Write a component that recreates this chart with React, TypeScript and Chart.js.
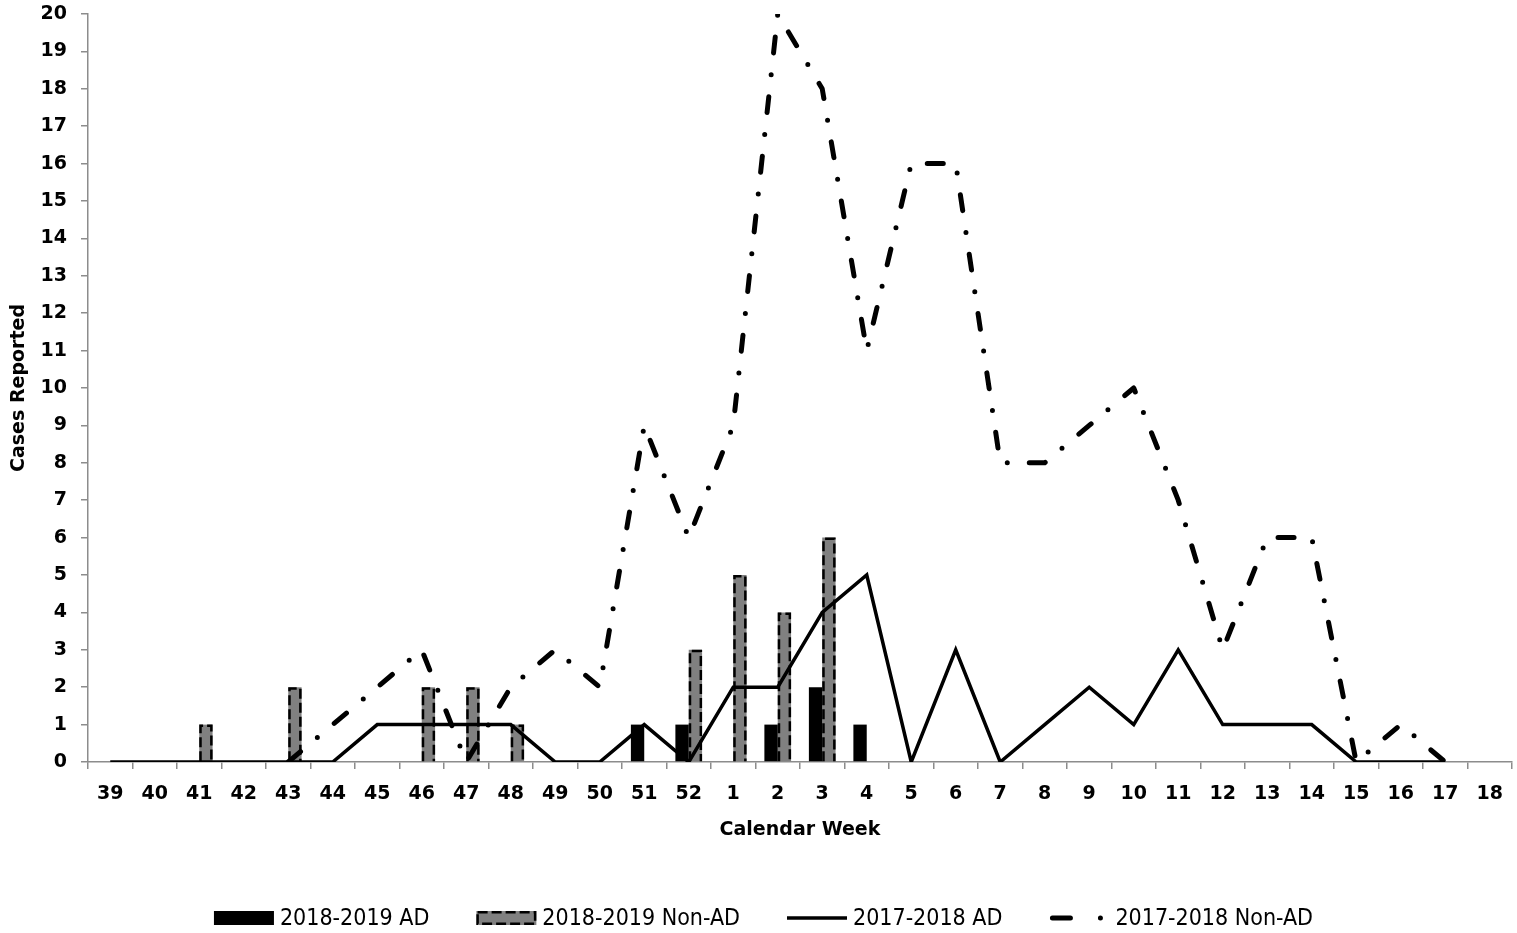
import React, { useEffect, useRef } from "react";
import { Chart, registerables } from "chart.js";

Chart.register(...registerables);

const weeks = [
  "39", "40", "41", "42", "43", "44", "45", "46", "47", "48", "49", "50", "51", "52",
  "1", "2", "3", "4", "5", "6", "7", "8", "9", "10", "11", "12", "13", "14", "15", "16", "17", "18",
];

const ad1819: (number | null)[] = [
  null, null, null, null, null, null, null, null, null, null, null, null, 1, 1,
  null, 1, 2, 1, null, null, null, null, null, null, null, null, null, null, null, null, null, null,
];

const nonAd1819: (number | null)[] = [
  null, null, 1, null, 2, null, null, 2, 2, 1, null, null, null, 3,
  5, 4, 6, null, null, null, null, null, null, null, null, null, null, null, null, null, null, null,
];

const ad1718: (number | null)[] = [
  0, 0, 0, 0, 0, 0, 1, 1, 1, 1, 0, 0, 1, 0,
  2, 2, 4, 5, 0, 3, 0, 1, 2, 1, 3, 1, 1, 1, 0, 0, 0, null,
];

const nonAd1718: (number | null)[] = [
  null, null, null, null, 0, 1, 2, 3, 0, 2, 3, 2, 9, 6,
  9, 20, 18, 11, 16, 16, 8, 8, 9, 10, 7, 3, 6, 6, 0, 1, 0, null,
];

const seriesLabels = ["2018-2019 AD", "2018-2019 Non-AD", "2017-2018 AD", "2017-2018 Non-AD"];

const xTitle = "Calendar Week";
const yTitle = "Cases Reported";

const AXIS_FONT = "'DejaVu Sans', sans-serif";
const LEGEND_FONT = "'DejaVu Sans Condensed', 'Liberation Sans Narrow', 'Liberation Sans', sans-serif";
const DASH_DOT = [16, 22, 0, 22];
const BAR_DASH = [10, 4];

const dashedBars = {
  id: "dashedBars",
  afterDatasetDraw(chart: any, args: any) {
    if (args.index !== 1) return;
    const ctx = chart.ctx;
    const data = chart.data.datasets[1].data;
    ctx.save();
    ctx.strokeStyle = "#000";
    ctx.lineWidth = 2.5;
    ctx.setLineDash(BAR_DASH);
    args.meta.data.forEach((el: any, i: number) => {
      const v = data[i];
      if (v == null || v === 0) return;
      const { x, y, base, width } = el.getProps(["x", "y", "base", "width"], true);
      const l = x - width / 2 + 1.25;
      const r = x + width / 2 - 1.25;
      const t = y + 1.25;
      ctx.beginPath();
      ctx.moveTo(l, base);
      ctx.lineTo(l, t);
      ctx.lineTo(r, t);
      ctx.lineTo(r, base);
      ctx.stroke();
    });
    ctx.restore();
  },
};

const customLegend = {
  id: "customLegend",
  afterDraw(chart: any) {
    const ctx = chart.ctx;
    const y = 918;
    const boxW = 60;
    const textGap = 6;
    const itemGap = 47;
    ctx.save();
    ctx.font = `23px ${LEGEND_FONT}`;
    ctx.textBaseline = "middle";
    ctx.fillStyle = "#000";
    const widths = seriesLabels.map((t) => ctx.measureText(t).width);
    const total = widths.reduce((a, b) => a + b, 0) + seriesLabels.length * (boxW + textGap) + (seriesLabels.length - 1) * itemGap;
    let x = chart.width / 2 - total / 2 + 5;
    seriesLabels.forEach((label, i) => {
      ctx.save();
      if (i === 0) {
        ctx.fillStyle = "#000";
        ctx.fillRect(x, y - 7, boxW, 14);
      } else if (i === 1) {
        ctx.fillStyle = "#808080";
        ctx.fillRect(x, y - 7, boxW, 14);
        ctx.strokeStyle = "#000";
        ctx.lineWidth = 2.5;
        ctx.setLineDash(BAR_DASH);
        ctx.strokeRect(x + 1.25, y - 5.75, boxW - 2.5, 11.5);
      } else if (i === 2) {
        ctx.strokeStyle = "#000";
        ctx.lineWidth = 3.5;
        ctx.beginPath();
        ctx.moveTo(x, y);
        ctx.lineTo(x + boxW, y);
        ctx.stroke();
      } else {
        ctx.strokeStyle = "#000";
        ctx.lineWidth = 5;
        ctx.lineCap = "round";
        ctx.setLineDash([18, 30, 0, 30]);
        ctx.beginPath();
        ctx.moveTo(x + 3, y);
        ctx.lineTo(x + boxW, y);
        ctx.stroke();
      }
      ctx.restore();
      ctx.fillStyle = "#000";
      ctx.font = `23px ${LEGEND_FONT}`;
      ctx.textBaseline = "middle";
      ctx.fillText(label, x + boxW + textGap, y + 1);
      x += boxW + textGap + widths[i] + itemGap;
    });
    ctx.restore();
  },
};

export default function App() {
  const canvasRef = useRef<HTMLCanvasElement | null>(null);

  useEffect(() => {
    const canvas = canvasRef.current;
    if (!canvas) return;
    const tickFont = { family: AXIS_FONT, size: 19, weight: "bold" as const };
    const chart = new Chart(canvas, {
      type: "bar",
      data: {
        labels: weeks,
        datasets: [
          {
            type: "bar",
            label: seriesLabels[0],
            data: ad1819,
            backgroundColor: "#000000",
            borderWidth: 0,
            order: 2,
          },
          {
            type: "bar",
            label: seriesLabels[1],
            data: nonAd1819,
            backgroundColor: "#808080",
            borderWidth: 0,
            order: 3,
          },
          {
            type: "line",
            label: seriesLabels[2],
            data: ad1718,
            borderColor: "#000000",
            backgroundColor: "#000000",
            borderWidth: 3.5,
            pointRadius: 0,
            tension: 0,
            fill: false,
            order: 1,
          },
          {
            type: "line",
            label: seriesLabels[3],
            data: nonAd1718,
            borderColor: "#000000",
            backgroundColor: "#000000",
            borderWidth: 5,
            borderDash: DASH_DOT,
            borderCapStyle: "round",
            borderJoinStyle: "round",
            pointRadius: 0,
            tension: 0,
            fill: false,
            order: 0,
          },
        ] as any,
      },
      options: {
        animation: false,
        responsive: false,
        maintainAspectRatio: false,
        layout: { padding: { top: 14, right: 4, bottom: 81, left: 0 } },
        plugins: {
          legend: { display: false },
          tooltip: { enabled: false },
          title: { display: false },
        },
        datasets: {
          bar: { categoryPercentage: 0.6, barPercentage: 1.0, grouped: true },
        },
        scales: {
          x: {
            offset: true,
            grid: { drawOnChartArea: false, color: "#8c8c8c", tickLength: 7, offset: true, lineWidth: 1.5 },
            border: { color: "#8c8c8c", width: 1.5 },
            ticks: { color: "#000", font: tickFont, padding: 14, maxRotation: 0, autoSkip: false },
            title: {
              display: true,
              text: xTitle,
              color: "#000",
              font: { family: AXIS_FONT, size: 19, weight: "bold" },
              padding: { top: 0, bottom: 11 },
            },
            afterFit: (s: any) => {
              s.height = 90;
            },
          },
          y: {
            min: 0,
            max: 20,
            grid: { drawOnChartArea: false, color: "#8c8c8c", tickLength: 7, lineWidth: 1.5 },
            border: { color: "#8c8c8c", width: 1.5 },
            ticks: { stepSize: 1, color: "#000", font: tickFont, padding: 14 },
            title: {
              display: true,
              text: yTitle,
              color: "#000",
              font: { family: AXIS_FONT, size: 19, weight: "bold" },
              padding: { top: 8, bottom: 0 },
            },
            afterFit: (s: any) => {
              s.width = 88;
              s.paddingTop = 0;
              s.paddingBottom = 0;
            },
          },
        },
      } as any,
      plugins: [dashedBars, customLegend],
    });
    return () => chart.destroy();
  }, []);

  return (
    <div style={{ position: "absolute", left: 0, top: 0, width: 1517, height: 933, background: "#fff" }}>
      <canvas ref={canvasRef} width={1517} height={933} style={{ width: 1517, height: 933, display: "block" }} />
    </div>
  );
}
